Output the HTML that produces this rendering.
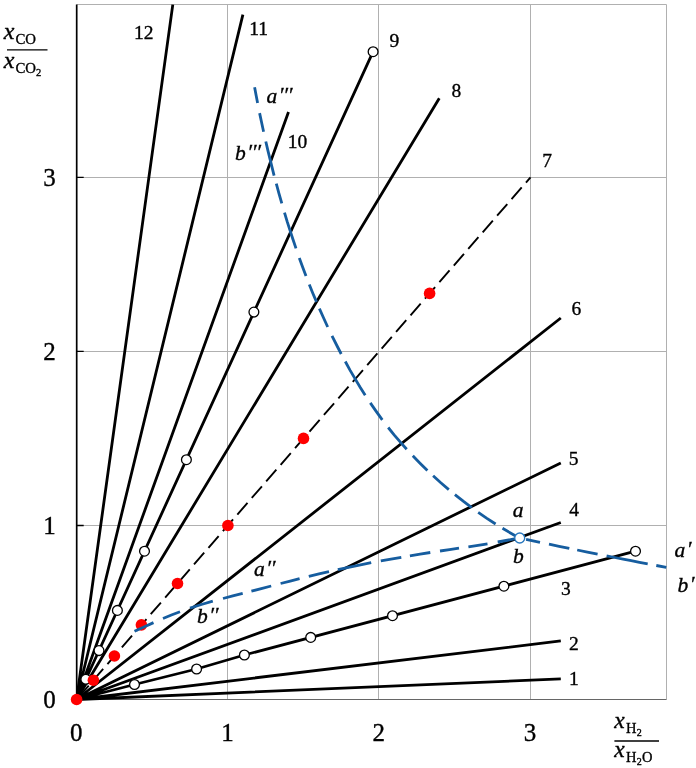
<!DOCTYPE html><html><head><meta charset="utf-8"><title>chart</title><style>html,body{margin:0;padding:0;background:#fff}svg{display:block}text{font-family:"Liberation Serif","Times New Roman",serif;fill:#000;stroke:#000;stroke-width:0.35px}.i{font-style:italic}</style></head><body>
<svg width="696" height="768" viewBox="0 0 696 768">
<rect width="696" height="768" fill="#fff"/>
<path d="M227.5 4.5V699.5M378.5 4.5V699.5M530.5 4.5V699.5M76.7 525.5H666.5M76.7 351.5H666.5M76.7 177.5H666.5M76.7 4.5H666.5V699.5" fill="none" stroke="#b0b0b0" stroke-width="1"/>
<path d="M76.7 699.5H666.5" fill="none" stroke="#666" stroke-width="1.1"/>
<path d="M76.7 4.5V700.1" fill="none" stroke="#000" stroke-width="1.7"/>
<path d="M76.7 525.5h7M76.7 351.4h7M76.7 177.3h7" stroke="#000" stroke-width="1.3" fill="none"/>
<path d="M76.6 699.5L560.8 678.9M76.6 699.5L560.8 640.9M76.6 699.5L134.5 684.5L196.6 669.0L244.4 655.0L635.5 551.2M76.6 699.5L560.8 522.5M76.6 699.5L560.8 462.9M76.6 699.5L560.8 318.0M76.6 699.5L439.3 98.3M76.6 699.5L373.1 51.7M76.6 699.5L288.5 112.0M76.6 699.5L242.9 14.7M76.6 699.5L172.8 4.6" fill="none" stroke="#000" stroke-width="2.8" stroke-linecap="butt"/>
<path d="M76.6 699.5L530.5 177.3" fill="none" stroke="#000" stroke-width="1.9" stroke-dasharray="15.5 6.5" stroke-dashoffset="19"/>
<circle cx="134.5" cy="684.5" r="4.9" fill="#fff" stroke="#000" stroke-width="1.3"/>
<circle cx="196.6" cy="669.0" r="4.9" fill="#fff" stroke="#000" stroke-width="1.3"/>
<circle cx="244.4" cy="655.0" r="4.9" fill="#fff" stroke="#000" stroke-width="1.3"/>
<circle cx="310.7" cy="637.4" r="4.9" fill="#fff" stroke="#000" stroke-width="1.3"/>
<circle cx="392.5" cy="615.7" r="4.9" fill="#fff" stroke="#000" stroke-width="1.3"/>
<circle cx="503.9" cy="586.2" r="4.9" fill="#fff" stroke="#000" stroke-width="1.3"/>
<circle cx="635.5" cy="551.2" r="4.9" fill="#fff" stroke="#000" stroke-width="1.3"/>
<circle cx="85.8" cy="679.3" r="4.9" fill="#fff" stroke="#000" stroke-width="1.3"/>
<circle cx="99.0" cy="650.6" r="4.9" fill="#fff" stroke="#000" stroke-width="1.3"/>
<circle cx="117.4" cy="610.4" r="4.9" fill="#fff" stroke="#000" stroke-width="1.3"/>
<circle cx="144.5" cy="551.2" r="4.9" fill="#fff" stroke="#000" stroke-width="1.3"/>
<circle cx="186.4" cy="459.7" r="4.9" fill="#fff" stroke="#000" stroke-width="1.3"/>
<circle cx="253.9" cy="312.1" r="4.9" fill="#fff" stroke="#000" stroke-width="1.3"/>
<circle cx="373.1" cy="51.7" r="4.9" fill="#fff" stroke="#000" stroke-width="1.3"/>
<circle cx="76.6" cy="699.5" r="5.8" fill="#ff0000"/>
<circle cx="93.4" cy="680.2" r="5.8" fill="#ff0000"/>
<circle cx="114.4" cy="656.0" r="5.8" fill="#ff0000"/>
<circle cx="141.4" cy="624.9" r="5.8" fill="#ff0000"/>
<circle cx="177.5" cy="583.5" r="5.8" fill="#ff0000"/>
<circle cx="227.9" cy="525.5" r="5.8" fill="#ff0000"/>
<circle cx="303.5" cy="438.4" r="5.8" fill="#ff0000"/>
<circle cx="429.6" cy="293.4" r="5.8" fill="#ff0000"/>
<path d="M254.6 87.3L256.1 95.3L257.6 103.1M259.6 113.1L261.6 122.5L263.6 131.7M265.8 141.5L267.8 150.1L269.9 158.6L272.0 167.1L274.1 175.6M276.3 183.7L279.0 193.6L281.8 203.3M284.5 212.7L287.2 221.7L290.1 230.6L293.0 239.5L296.0 248.4M299.3 257.9L302.6 266.9L306.0 276.0M309.3 284.5L312.8 293.2L316.5 301.9M319.4 308.6L323.5 317.8L327.7 327.0M332.0 335.9L336.6 345.0L341.2 354.0M345.3 361.5L350.0 370.1L355.0 378.6L360.0 387.0L365.2 395.2M370.3 402.9L376.2 411.4L382.3 419.9M388.2 427.5L394.1 434.8L400.4 442.2L406.7 449.2M412.8 455.8L420.0 463.2L427.4 470.5M433.1 475.8L440.8 482.8L448.8 489.6M454.9 494.6L463.2 501.2L471.7 507.6M478.2 512.3L486.9 518.3L495.6 524.0M502.5 528.3L515.7 536.0M526.1 539.4L540.0 542.3M549.0 544.2L559.1 546.3L569.3 548.4M577.2 550.0L587.4 552.1L597.6 554.1M606.6 555.9L614.8 557.5L623.1 559.1L631.2 560.7L639.5 562.3L647.7 563.8M656.3 565.5L666.3 567.4M134.5 631.3L144.0 626.9L153.5 622.6M163.0 618.5L171.4 615.0L180.0 611.7M190.0 608.2L201.4 604.5L212.8 601.2M223.0 598.5L232.8 595.9L242.7 593.4M251.4 591.1L261.3 588.6L271.2 586.0M280.6 583.5L290.2 581.1L299.6 578.7M308.8 576.4L319.0 573.9L329.0 571.6M337.8 569.6L346.1 567.8L354.5 566.1L362.9 564.4L371.2 562.7M380.8 560.9L391.0 559.1L401.3 557.3M409.9 555.8L420.1 554.1L430.3 552.5M440.0 551.0L449.5 549.6L459.0 548.2M468.4 546.8L478.0 545.3L487.5 543.8M497.7 542.0L506.0 540.5L514.3 538.9" fill="none" stroke="#165d9f" stroke-width="2.8"/>
<circle cx="519.7" cy="538.0" r="5" fill="#fff" stroke="#2877bd" stroke-width="1.4"/>
<text x="76.2" y="740.9" font-size="25" text-anchor="middle">0</text>
<text x="49.5" y="707.8" font-size="25" text-anchor="middle">0</text>
<text x="227.5" y="740.9" font-size="25" text-anchor="middle">1</text>
<text x="49.5" y="533.8" font-size="25" text-anchor="middle">1</text>
<text x="378.8" y="740.9" font-size="25" text-anchor="middle">2</text>
<text x="49.5" y="359.7" font-size="25" text-anchor="middle">2</text>
<text x="530.1" y="740.9" font-size="25" text-anchor="middle">3</text>
<text x="49.5" y="185.6" font-size="25" text-anchor="middle">3</text>
<text x="573.8" y="684.8" font-size="19.5" text-anchor="middle">1</text>
<text x="573.8" y="650.3" font-size="19.5" text-anchor="middle">2</text>
<text x="565.8" y="595.1" font-size="19.5" text-anchor="middle">3</text>
<text x="574" y="515.5" font-size="19.5" text-anchor="middle">4</text>
<text x="573.6" y="464.6" font-size="19.5" text-anchor="middle">5</text>
<text x="576.4" y="314.8" font-size="19.5" text-anchor="middle">6</text>
<text x="547" y="167" font-size="19.5" text-anchor="middle">7</text>
<text x="456.3" y="96.5" font-size="19.5" text-anchor="middle">8</text>
<text x="394.3" y="47.2" font-size="19.5" text-anchor="middle">9</text>
<text x="297.5" y="147.5" font-size="19.5" text-anchor="middle">10</text>
<text x="258.7" y="35" font-size="19.5" text-anchor="middle">11</text>
<text x="143.7" y="39" font-size="19.5" text-anchor="middle">12</text>
<text x="674.5" y="557.2" font-size="21.5" class="i">a<tspan dx="1.5" dy="-1" letter-spacing="-0.2">′</tspan></text>
<text x="677.5" y="591.9" font-size="21.5" class="i">b<tspan dx="1.5" dy="-1" letter-spacing="-0.2">′</tspan></text>
<text x="512.8" y="516.7" font-size="21.5" class="i">a<tspan dx="1.5" dy="-1" letter-spacing="-0.2"></tspan></text>
<text x="513" y="562.5" font-size="21.5" class="i">b<tspan dx="1.5" dy="-1" letter-spacing="-0.2"></tspan></text>
<text x="254" y="575.8" font-size="21.5" class="i">a<tspan dx="1.5" dy="-1" letter-spacing="-0.2">′′</tspan></text>
<text x="197" y="623.3" font-size="21.5" class="i">b<tspan dx="1.5" dy="-1" letter-spacing="-0.2">′′</tspan></text>
<text x="266.5" y="102.5" font-size="21.5" class="i">a<tspan dx="1.5" dy="-1" letter-spacing="-0.2">′′′</tspan></text>
<text x="235" y="160" font-size="21.5" class="i">b<tspan dx="1.5" dy="-1" letter-spacing="-0.2">′′′</tspan></text>
<text x="3.8" y="38.7" font-size="24" class="i">x</text><text x="15.5" y="43.9" font-size="14.8">CO</text>
<path d="M7 49.9H47.5" stroke="#000" stroke-width="1.2"/>
<text x="3.8" y="67.5" font-size="24" class="i">x</text><text x="15.5" y="73.2" font-size="14.8">CO</text><text x="36" y="75.8" font-size="10.5">2</text>
<text x="614.3" y="728" font-size="23.5" class="i">x</text><text x="626" y="733" font-size="14.5">H</text><text x="636.8" y="736" font-size="10">2</text>
<path d="M614.4 741H659" stroke="#000" stroke-width="1.3"/>
<text x="614.3" y="756.8" font-size="23.5" class="i">x</text><text x="626" y="762" font-size="14.5">H</text><text x="636.8" y="765" font-size="10">2</text><text x="642" y="762" font-size="14.5">O</text>
</svg></body></html>
